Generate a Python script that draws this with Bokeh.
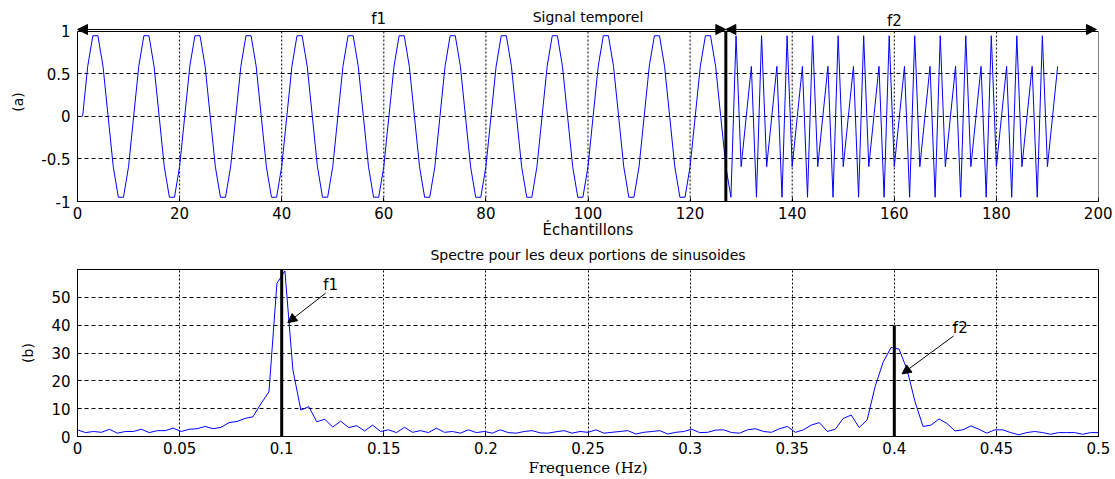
from bokeh.plotting import figure
from bokeh.layouts import column
from bokeh.models import Range1d, Label, Arrow, NormalHead, Span
from bokeh.embed import file_html
from bokeh.resources import INLINE

# ---------------- data ----------------
# top panel: sample index (1..192) and signal values
signal_f1 = [
    0, 0.59, 0.95, 0.95, 0.59, 0, -0.59, -0.95, -0.95, -0.59,
    0, 0.59, 0.95, 0.95, 0.59, 0, -0.59, -0.95, -0.95, -0.59,
    0, 0.59, 0.95, 0.95, 0.59, 0, -0.59, -0.95, -0.95, -0.59,
    0, 0.59, 0.95, 0.95, 0.59, 0, -0.59, -0.95, -0.95, -0.59,
    0, 0.59, 0.95, 0.95, 0.59, 0, -0.59, -0.95, -0.95, -0.59,
    0, 0.59, 0.95, 0.95, 0.59, 0, -0.59, -0.95, -0.95, -0.59,
    0, 0.59, 0.95, 0.95, 0.59, 0, -0.59, -0.95, -0.95, -0.59,
    0, 0.59, 0.95, 0.95, 0.59, 0, -0.59, -0.95, -0.95, -0.59,
    0, 0.59, 0.95, 0.95, 0.59, 0, -0.59, -0.95, -0.95, -0.59,
    0, 0.59, 0.95, 0.95, 0.59, 0, -0.59, -0.95, -0.95, -0.59,
    0, 0.59, 0.95, 0.95, 0.59, 0, -0.59, -0.95, -0.95, -0.59,
    0, 0.59, 0.95, 0.95, 0.59, 0, -0.59, -0.95, -0.95, -0.59,
    0, 0.59, 0.95, 0.95, 0.59, 0, -0.59, -0.95,
]
signal_f2 = [
    0.95, -0.59, 0, 0.59, -0.95, 0.95, -0.59, 0, 0.59, -0.95,
    0.95, -0.59, 0, 0.59, -0.95, 0.95, -0.59, 0, 0.59, -0.95,
    0.95, -0.59, 0, 0.59, -0.95, 0.95, -0.59, 0, 0.59, -0.95,
    0.95, -0.59, 0, 0.59, -0.95, 0.95, -0.59, 0, 0.59, -0.95,
    0.95, -0.59, 0, 0.59, -0.95, 0.95, -0.59, 0, 0.59, -0.95,
    0.95, -0.59, 0, 0.59, -0.95, 0.95, -0.59, 0, 0.59, -0.95,
    0.95, -0.59, 0, 0.59,
]
signal = signal_f1 + signal_f2
samples = list(range(1, len(signal) + 1))

# bottom panel: spectrum magnitude on bins k = 0..128 (frequency = k/256)
spectrum = [
    2.4, 1.4, 1.8, 1.5, 2.6, 1.2, 1.8, 1.8, 2.6, 1.4,
    2.1, 2.1, 3.0, 1.8, 2.6, 2.8, 3.6, 2.8, 3.3, 5.0,
    5.4, 6.5, 7.1, 11.8, 16.0, 55.0, 59.5, 24.0, 9.5, 10.7,
    5.3, 6.2, 3.4, 5.5, 3.2, 3.9, 2.0, 4.1, 1.8, 2.4,
    1.4, 3.3, 1.5, 2.1, 1.4, 3.0, 1.5, 1.8, 1.2, 2.4,
    1.4, 1.8, 1.2, 2.4, 1.4, 1.2, 1.8, 2.1, 1.3, 1.2,
    1.7, 2.1, 1.2, 1.8, 1.5, 2.4, 1.2, 1.5, 1.8, 2.1,
    0.9, 1.5, 1.8, 2.1, 0.9, 1.5, 1.8, 2.6, 1.4, 1.5,
    2.3, 2.4, 1.4, 1.2, 2.4, 2.8, 1.8, 1.5, 2.8, 3.6,
    1.5, 2.4, 4.1, 5.0, 1.8, 2.6, 6.5, 7.7, 3.2, 6.0,
    18.0, 26.7, 32.0, 31.4, 24.0, 12.5, 3.6, 4.1, 6.3, 4.7,
    2.0, 2.4, 3.8, 2.6, 1.2, 2.4, 2.4, 1.4, 0.6, 1.4,
    1.8, 1.4, 0.8, 1.4, 1.4, 1.4, 0.8, 1.4, 1.4,
]
fft_size = 256
freqs = [k / fft_size for k in range(len(spectrum))]

marker_freqs = [0.1, 0.4]
marker_heights = [60, 40]

top_xticks = [0, 20, 40, 60, 80, 100, 120, 140, 160, 180, 200]
top_yticks = [-1, -0.5, 0, 0.5, 1]
top_ylabels = ["-1", "-0.5", "0", "0.5", "1"]
bot_xticks = [0, 0.05, 0.1, 0.15, 0.2, 0.25, 0.3, 0.35, 0.4, 0.45, 0.5]
bot_xlabels = ["0", "0.05", "0.1", "0.15", "0.2", "0.25", "0.3", "0.35", "0.4", "0.45", "0.5"]
bot_yticks = [0, 10, 20, 30, 40, 50, 60]
bot_ylabels = ["0", "10", "20", "30", "40", "50", ""]

SANS = "DejaVu Sans"
SERIF = "DejaVu Serif"
BLUE = "#0000FF"
W = 1112
LEFT = 77
RIGHT = 14


def style_axis(ax):
    ax.major_label_text_font = SANS
    ax.major_label_text_font_size = "15px"
    ax.major_label_text_color = "black"
    ax.axis_line_color = "black"
    ax.major_tick_line_color = "black"
    ax.major_tick_in = 4
    ax.major_tick_out = 0
    ax.minor_tick_line_color = None
    ax.axis_label_text_font_style = "normal"
    ax.axis_label_text_color = "black"


def style(p, xt, yt, ylab_over, xlab_over=None):
    p.xaxis.ticker = xt
    p.yaxis.ticker = yt
    p.yaxis.major_label_overrides = {v: s for v, s in zip(yt, ylab_over)}
    if xlab_over:
        p.xaxis.major_label_overrides = {v: s for v, s in zip(xt, xlab_over)}
    for ax in (p.xaxis, p.yaxis):
        style_axis(ax)
    p.xaxis.major_label_standoff = 5
    p.yaxis.major_label_standoff = 7
    p.xaxis.axis_label_standoff = 3
    p.yaxis.axis_label_standoff = 12
    p.xgrid.grid_line_color = "black"
    p.xgrid.grid_line_dash = "2 2"
    p.xgrid.grid_line_alpha = 1.0
    p.ygrid.grid_line_color = "black"
    p.ygrid.grid_line_dash = "4 3"
    p.ygrid.grid_line_alpha = 1.0
    p.outline_line_color = "black"
    p.outline_line_alpha = 1.0
    p.outline_line_width = 1
    p.background_fill_color = "white"
    p.border_fill_color = "white"


def head():
    return NormalHead(size=10, fill_color="black", line_color="black")


# ---------------- top figure (frame extended above y=1 for the header texts) ----------------
ylo, yhi = top_yticks[0], top_yticks[-1]
xlo, xhi = top_xticks[0], top_xticks[-1]
p1 = figure(width=W, height=241, x_range=Range1d(xlo, xhi), y_range=Range1d(-1, 1.341),
            output_backend="svg", toolbar_location=None, title=None,
            min_border_left=LEFT, min_border_right=RIGHT, min_border_top=2, min_border_bottom=40)
style(p1, top_xticks, top_yticks, top_ylabels)
p1.outline_line_color = None
p1.yaxis.bounds = (ylo, yhi)
p1.xgrid.visible = False
p1.xaxis.axis_label = "Échantillons"
p1.xaxis.axis_label_text_font = SANS
p1.xaxis.axis_label_text_font_size = "15px"
p1.xaxis.axis_label_standoff = -1
p1.yaxis.axis_label = "(a)"
p1.yaxis.axis_label_text_font = SANS
p1.yaxis.axis_label_text_font_size = "14px"

# box: top and right sides
p1.add_layout(Span(location=yhi, dimension="width", line_color="black", line_width=1))
p1.segment(x0=[xhi], y0=[ylo], x1=[xhi], y1=[yhi], line_color="black", line_width=1)
# vertical dotted grid limited to the data box
inner_x = top_xticks[1:-1]
p1.segment(x0=inner_x, y0=[ylo] * len(inner_x), x1=inner_x, y1=[yhi] * len(inner_x),
           line_color="black", line_width=1, line_dash="2 2")

p1.line(samples, signal, line_color=BLUE, line_width=1)
boundary = len(signal_f1) - 1
p1.segment(x0=[boundary], y0=[ylo], x1=[boundary], y1=[yhi], line_color="black", line_width=3)

p1.add_layout(Arrow(start=head(), end=head(), x_start=0, y_start=1.0235, x_end=127, y_end=1.0235,
                    line_color="black", line_width=1))
p1.add_layout(Arrow(start=head(), end=head(), x_start=127, y_start=1.0235, x_end=199.6, y_end=1.0235,
                    line_color="black", line_width=1))
p1.add_layout(Label(x=59, y=1.147, text="f1", text_align="center", text_baseline="middle",
                    text_font=SANS, text_font_size="15px", text_color="black"))
p1.add_layout(Label(x=160, y=1.125, text="f2", text_align="center", text_baseline="middle",
                    text_font=SANS, text_font_size="15px", text_color="black"))
p1.add_layout(Label(x=100, y=1.176, text="Signal temporel", text_align="center",
                    text_baseline="middle", text_font=SANS, text_font_size="14px",
                    text_color="black"))

# ---------------- bottom figure ----------------
p2 = figure(width=W, height=238, x_range=Range1d(0, 0.5), y_range=Range1d(0, 60),
            output_backend="svg", toolbar_location=None,
            title="Spectre pour les deux portions de sinusoides",
            min_border_left=LEFT, min_border_right=RIGHT, min_border_top=27, min_border_bottom=42)
style(p2, bot_xticks, bot_yticks, bot_ylabels, bot_xlabels)
p2.title.align = "center"
p2.title.vertical_align = "top"
p2.title.text_font = SANS
p2.title.text_font_size = "14px"
p2.title.text_font_style = "normal"
p2.title.text_color = "black"
p2.title.standoff = 10
p2.xaxis.axis_label = "Frequence (Hz)"
p2.xaxis.axis_label_text_font = SERIF
p2.xaxis.axis_label_text_font_size = "15px"
p2.xaxis.axis_label_standoff = 2
p2.yaxis.axis_label = "(b)"
p2.yaxis.axis_label_text_font = SANS
p2.yaxis.axis_label_text_font_size = "14px"

p2.line(freqs, spectrum, line_color=BLUE, line_width=1)
p2.segment(x0=marker_freqs, y0=[0] * len(marker_freqs), x1=marker_freqs, y1=marker_heights,
           line_color="black", line_width=3)

p2.add_layout(Arrow(end=NormalHead(size=9, fill_color="black", line_color="black"),
                    x_start=0.1215, y_start=51.5, x_end=0.1030, y_end=40.9,
                    line_color="black", line_width=1))
p2.add_layout(Arrow(end=NormalHead(size=9, fill_color="black", line_color="black"),
                    x_start=0.4290, y_start=36.1, x_end=0.4038, y_end=22.5,
                    line_color="black", line_width=1))
p2.add_layout(Label(x=0.124, y=54.6, text="f1", text_align="center", text_baseline="middle",
                    text_font=SANS, text_font_size="15px", text_color="black"))
p2.add_layout(Label(x=0.4323, y=39.1, text="f2", text_align="center", text_baseline="middle",
                    text_font=SANS, text_font_size="15px", text_color="black"))

layout = column(p1, p2, spacing=0)
open("out.html", "w").write(file_html(layout, INLINE))
